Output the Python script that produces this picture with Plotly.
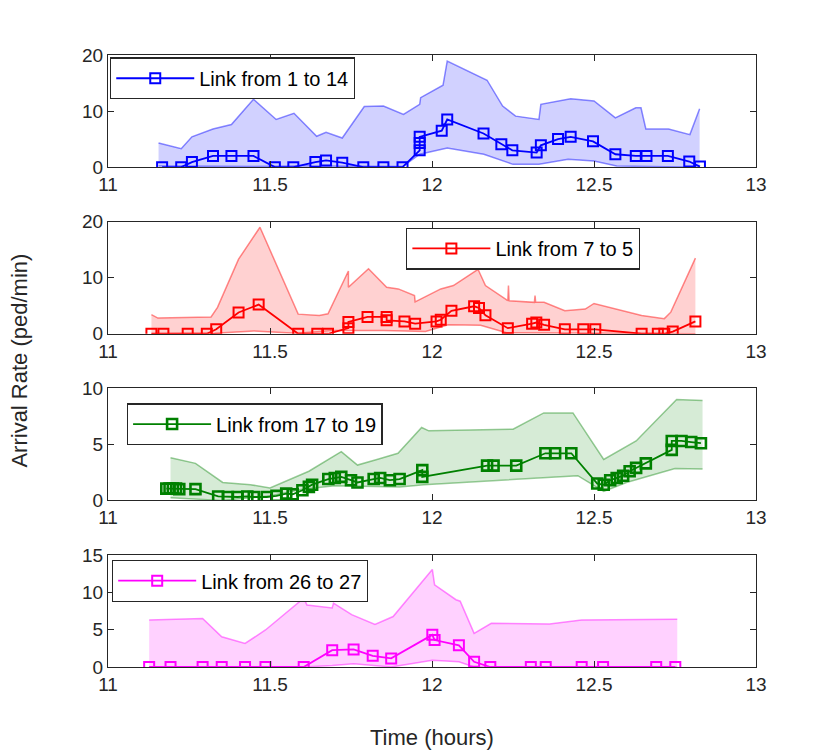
import plotly.graph_objects as go
from plotly.subplots import make_subplots

# markers per link (time in hours, arrival rate in ped/min)
t1 = [11.167, 11.226, 11.259, 11.324, 11.381, 11.449, 11.515, 11.572, 11.64, 11.673, 11.723, 11.788, 11.85, 11.909,
      11.962, 11.962, 11.962, 12.03, 12.047, 12.159, 12.214, 12.248, 12.323, 12.336, 12.389, 12.428, 12.497, 12.566,
      12.629, 12.662, 12.728, 12.794, 12.827]
r1 = [0, 0, 0.9, 2, 2, 2, 0, 0, 0.9, 1.2, 0.8, 0, 0, 0,
      3.0, 4.3, 5.4, 6.5, 8.5, 6.0, 4.1, 3.0, 2.6, 3.9, 5.0, 5.4, 4.6, 2.3,
      2, 2, 2, 1, 0.1]
up1_t = [11.156, 11.226, 11.259, 11.324, 11.381, 11.449, 11.519, 11.574, 11.644, 11.673, 11.723, 11.791, 11.85, 11.912,
         11.962, 11.965, 12.034, 12.047, 12.17, 12.218, 12.258, 12.33, 12.336, 12.428, 12.5, 12.566, 12.629, 12.645,
         12.66, 12.73, 12.796, 12.826]
up1 = [4.3, 3.3, 5.4, 6.8, 7.6, 12.1, 8.5, 9.6, 5.5, 6.2, 5.2, 10.8, 10.9, 9.4,
       11.2, 12.4, 14.6, 18.9, 15.5, 10.9, 9.1, 8.5, 11.2, 12.2, 11.8, 8.8, 10.6, 10.6,
       6.8, 6.8, 5.8, 10.4]
lo1_t = [11.156, 11.3, 11.45, 11.6, 11.8, 11.91, 11.962, 12.047, 12.16, 12.25, 12.33, 12.42, 12.5, 12.57, 12.826]
lo1 = [0.2, 0.1, 0.1, 0.2, 0.1, 0.1, 2.3, 3.4, 2.3, 0.5, 0.5, 1.4, 1.1, 0.2, 0.0]

t2 = [11.134, 11.171, 11.246, 11.305, 11.334, 11.403, 11.465, 11.587, 11.646, 11.679, 11.742, 11.742, 11.801, 11.86,
      11.86, 11.915, 11.948, 12.014, 12.027, 12.06, 12.13, 12.145, 12.165, 12.234, 12.309, 12.322, 12.346, 12.41,
      12.467, 12.504, 12.647, 12.697, 12.717, 12.743, 12.813]
r2 = [0, 0, 0, 0, 0.8, 3.8, 5.2, 0, 0, 0, 1.0, 2.1, 3.0, 3.0,
      2.4, 2.2, 1.8, 2.2, 2.5, 4.1, 4.9, 4.6, 3.3, 1.0, 1.8, 2.0, 1.6, 0.8,
      0.8, 0.8, 0, 0, 0, 0.4, 2.2]
up2_t = [11.134, 11.154, 11.318, 11.338, 11.403, 11.469, 11.587, 11.652, 11.679, 11.742, 11.742, 11.804, 11.86, 11.896,
         11.946, 11.948, 12.027, 12.066, 12.142, 12.165, 12.234, 12.236, 12.238, 12.316, 12.318, 12.32, 12.346, 12.41,
         12.473, 12.5, 12.647, 12.717, 12.737, 12.813]
up2 = [3.4, 2.8, 3.0, 4.7, 13.3, 19.0, 3.5, 3.25, 3.55, 11.2, 8.3, 11.6, 8.3, 8.0,
       6.8, 5.7, 8.0, 8.6, 11.5, 8.6, 5.9, 8.6, 5.9, 5.6, 6.8, 5.6, 5.6, 4.1,
       4.4, 5.4, 3.25, 2.7, 3.85, 13.5]
lo2_t = [11.134, 11.33, 11.45, 11.58, 11.7, 11.85, 11.98, 12.05, 12.15, 12.23, 12.5, 12.813]
lo2 = [0.0, 0.1, 0.5, 0.1, 0.6, 0.6, 0.4, 1.6, 1.5, 0.2, 0.1, 0.0]

t3 = [11.18, 11.19, 11.2, 11.21, 11.22, 11.27, 11.34, 11.37, 11.4, 11.43, 11.45, 11.49, 11.52, 11.55,
      11.57, 11.6, 11.62, 11.63, 11.68, 11.7, 11.72, 11.75, 11.77, 11.82, 11.84, 11.87, 11.9, 11.97,
      11.97, 12.17, 12.19, 12.26, 12.35, 12.38, 12.43, 12.51, 12.53, 12.55, 12.57, 12.59, 12.61, 12.63,
      12.66, 12.74, 12.74, 12.77, 12.8, 12.83]
r3 = [1.05, 1.05, 1.05, 1.05, 1.0, 1.0, 0.35, 0.3, 0.3, 0.35, 0.3, 0.3, 0.4, 0.6,
      0.55, 0.9, 1.2, 1.4, 1.9, 2.0, 2.1, 1.8, 1.6, 1.9, 2.0, 1.8, 1.9, 2.7,
      2.1, 3.1, 3.1, 3.1, 4.2, 4.2, 4.2, 1.5, 1.4, 1.8, 2.0, 2.2, 2.6, 2.9,
      3.3, 4.5, 5.3, 5.3, 5.2, 5.1]
up3_t = [11.193, 11.27, 11.354, 11.44, 11.5, 11.54, 11.62, 11.72, 11.77, 11.83, 11.895, 11.968, 11.99, 12.25,
         12.345, 12.435, 12.53, 12.63, 12.755, 12.835]
up3 = [3.8, 3.3, 1.6, 1.4, 1.1, 1.6, 2.6, 4.35, 3.15, 3.65, 4.2, 6.5, 6.2, 6.35,
       7.8, 7.8, 3.65, 5.3, 9.0, 8.9]
lo3_t = [11.193, 11.35, 11.5, 11.6, 11.7, 11.9, 11.975, 12.2, 12.45, 12.53, 12.6, 12.75, 12.835]
lo3 = [0.24, 0.0, 0.4, 1.0, 1.3, 1.2, 1.4, 1.8, 2.2, 0.8, 1.6, 2.85, 2.8]

t4 = [11.127, 11.193, 11.292, 11.351, 11.423, 11.486, 11.604, 11.692, 11.758, 11.817, 11.874, 12.001, 12.008, 12.083,
      12.13, 12.18, 12.305, 12.351, 12.462, 12.528, 12.692, 12.751]
r4 = [0, 0, 0, 0, 0, 0, 0, 2.25, 2.35, 1.5, 1.15, 4.3, 3.6, 2.9,
      0.7, 0, 0, 0, 0, 0, 0, 0]
up4_t = [11.127, 11.292, 11.351, 11.423, 11.486, 11.604, 11.614, 11.692, 11.696, 11.752, 11.824, 11.88, 12.001, 12.008,
         12.074, 12.087, 12.13, 12.183, 12.363, 12.462, 12.757]
up4 = [6.3, 6.5, 4.05, 3.15, 4.95, 9.2, 8.3, 7.9, 8.55, 7.0, 5.7, 6.75, 13.05, 11.0,
       9.0, 8.8, 4.5, 5.85, 5.75, 6.3, 6.4]
lo4_t = [11.127, 11.604, 11.692, 11.758, 11.874, 12.001, 12.083, 12.13, 12.757]
lo4 = [0, 0, 0.2, 0.45, 0, 0.9, 0.7, 0, 0]

links = ["Link from 1 to 14", "Link from 7 to 5", "Link from 17 to 19", "Link from 26 to 27"]
line_cols = ["#0000ff", "#ff0000", "#008000", "#ff00ff"]
fill_cols = ["rgba(0,0,255,0.18)", "rgba(255,0,0,0.18)", "rgba(0,128,0,0.16)", "rgba(255,0,255,0.18)"]
edge_cols = ["rgba(0,0,255,0.45)", "rgba(255,0,0,0.45)", "rgba(0,128,0,0.4)", "rgba(255,0,255,0.45)"]
y_max = [20, 20, 10, 15]
y_ticks = [[0, 10, 20], [0, 10, 20], [0, 5, 10], [0, 5, 10, 15]]
x_ticks = [11, 11.5, 12, 12.5, 13]

data = [
    (t1, r1, up1_t, up1, lo1_t, lo1),
    (t2, r2, up2_t, up2, lo2_t, lo2),
    (t3, r3, up3_t, up3, lo3_t, lo3),
    (t4, r4, up4_t, up4, lo4_t, lo4),
]

fig = make_subplots(rows=4, cols=1, vertical_spacing=0.089)

# legend boxes (x, y in paper coords)
leg_pos = [(0.003, 0.996), (0.46, 0.718), (0.029, 0.431), (0.006, 0.175)]

for i, (t, r, ut, u, lt, lo) in enumerate(data):
    row = i + 1
    lg = "legend" if i == 0 else "legend" + str(i + 1)
    # shaded band
    fig.add_trace(go.Scatter(x=ut + lt[::-1], y=u + lo[::-1], fill="toself", fillcolor=fill_cols[i],
                             mode="none", showlegend=False, hoverinfo="skip"), row=row, col=1)
    fig.add_trace(go.Scatter(x=ut, y=u, mode="lines", line=dict(color=edge_cols[i], width=1.5),
                             showlegend=False, hoverinfo="skip"), row=row, col=1)
    fig.add_trace(go.Scatter(x=lt, y=lo, mode="lines", line=dict(color=edge_cols[i], width=1.5),
                             showlegend=False, hoverinfo="skip"), row=row, col=1)
    mw = 2.6 if i == 2 else 2
    fig.add_trace(go.Scatter(x=t, y=r, mode="lines+markers", name=links[i], legend=lg,
                             line=dict(color=line_cols[i], width=1.8),
                             marker=dict(symbol="square-open", size=10, color=line_cols[i],
                                         line=dict(width=mw, color=line_cols[i]))),
                  row=row, col=1)

    fig.update_xaxes(range=[11, 13], tickvals=x_ticks, ticktext=["11", "11.5", "12", "12.5", "13"],
                     ticks="inside", ticklen=6, mirror="allticks", showline=True, linecolor="#262626",
                     linewidth=1.2, tickcolor="#262626", showgrid=False, zeroline=False, row=row, col=1)
    fig.update_yaxes(range=[0, y_max[i]], tickvals=y_ticks[i], ticks="inside", ticklen=6, mirror="allticks",
                     showline=True, linecolor="#262626", linewidth=1.2, tickcolor="#262626",
                     showgrid=False, zeroline=False, row=row, col=1)

    leg = dict(x=leg_pos[i][0], y=leg_pos[i][1], xref="paper", yref="paper", xanchor="left", yanchor="top",
               bgcolor="white", bordercolor="#262626", borderwidth=1.3, itemwidth=78,
               font=dict(size=20, color="black", family="Liberation Sans"))
    fig.update_layout({lg: leg})

fig.update_layout(
    width=830, height=756,
    margin=dict(l=100, r=82, t=47, b=97),
    plot_bgcolor="white", paper_bgcolor="white",
    font=dict(family="Liberation Sans", size=19, color="#262626"),
    annotations=[
        dict(text="Arrival Rate (ped/min)", x=-0.138, y=0.5, xref="paper", yref="paper", textangle=-90,
             showarrow=False, font=dict(size=22, color="#262626"), xanchor="center", yanchor="middle"),
        dict(text="Time (hours)", x=0.5, y=-0.115, xref="paper", yref="paper",
             showarrow=False, font=dict(size=22, color="#262626"), xanchor="center", yanchor="middle"),
    ],
)

fig.write_html("out.html")
